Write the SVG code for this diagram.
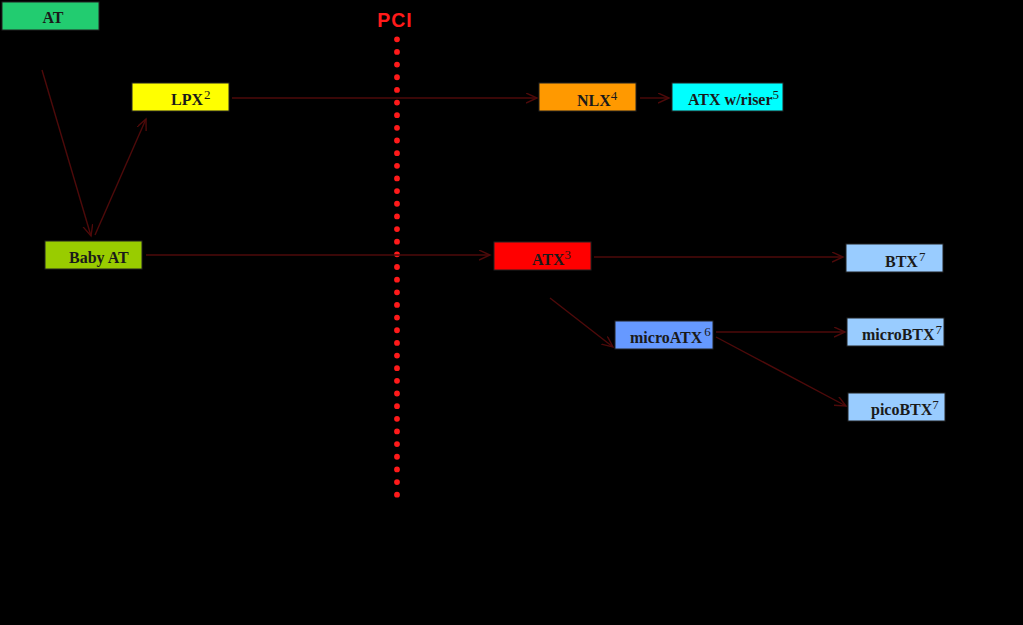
<svg xmlns="http://www.w3.org/2000/svg" width="1023" height="625" viewBox="0 0 1023 625">
<defs>
<style>
.box{stroke:#222;stroke-width:1}
.lbl{font-family:"Liberation Serif",serif;font-weight:bold;font-size:16px;fill:#1a1a1a}
.sup{font-weight:normal;font-size:13px}
.conn{stroke:#4e0a0a;stroke-width:1.4;fill:none;marker-end:url(#ah)}
</style>
<marker id="ah" markerUnits="userSpaceOnUse" markerWidth="14" markerHeight="12" refX="11" refY="5" orient="auto">
<path d="M0,0 L11,5 L0,10" fill="none" stroke="#4e0a0a" stroke-width="1.4"/>
</marker>
</defs>
<rect width="1023" height="625" fill="#000"/>
<g id="pci">
<line x1="397" y1="39.3" x2="397" y2="494.7" stroke="#ff1a1a" stroke-width="5.8" stroke-linecap="round" stroke-dasharray="0 12.65"/>
<text x="395" y="27" text-anchor="middle" font-family="Liberation Sans,Arial,sans-serif" font-weight="bold" font-size="19.5px" fill="#ff1a1a" letter-spacing="1">PCI</text>
</g>
<g id="connectors">
<line class="conn" x1="42" y1="70" x2="91" y2="236"/>
<line class="conn" x1="95" y1="235" x2="146" y2="119"/>
<line class="conn" x1="232" y1="98" x2="537" y2="98"/>
<line class="conn" x1="640" y1="98" x2="669" y2="98"/>
<line class="conn" x1="146" y1="255" x2="490" y2="255"/>
<line class="conn" x1="594" y1="257" x2="843" y2="257"/>
<line class="conn" x1="550" y1="298" x2="613" y2="347"/>
<line class="conn" x1="716" y1="332" x2="845" y2="332"/>
<line class="conn" x1="716" y1="337" x2="846" y2="406"/>
</g>
<g id="at"><rect class="box" x="2" y="2" width="97" height="28" fill="#22cc70"/><text class="lbl" x="53" y="23" text-anchor="middle">AT</text></g>
<g id="lpx"><rect class="box" x="132" y="83" width="97" height="28" fill="#ffff00"/><text class="lbl" x="171" y="105">LPX<tspan class="sup" dx="1" dy="-6">2</tspan></text></g>
<g id="nlx"><rect class="box" x="539" y="83" width="97" height="28" fill="#ff9900"/><text class="lbl" x="577" y="106">NLX<tspan class="sup" dx="0" dy="-6">4</tspan></text></g>
<g id="atxriser"><rect class="box" x="672" y="83" width="111" height="28" fill="#00ffff"/><text class="lbl" x="688" y="105">ATX w/riser<tspan class="sup" dx="0" dy="-6">5</tspan></text></g>
<g id="babyat"><rect class="box" x="45" y="241" width="97" height="28" fill="#99cc00"/><text class="lbl" x="69" y="263">Baby AT</text></g>
<g id="atx"><rect class="box" x="494" y="242" width="97" height="28" fill="#ff0000"/><text class="lbl" x="532" y="265">ATX<tspan class="sup" dx="0" dy="-6">3</tspan></text></g>
<g id="btx"><rect class="box" x="846" y="244" width="97" height="28" fill="#99ccff"/><text class="lbl" x="885" y="267">BTX<tspan class="sup" dx="1" dy="-6">7</tspan></text></g>
<g id="microatx"><rect class="box" x="615" y="321" width="98" height="28" fill="#6699ff"/><text class="lbl" x="630" y="343">microATX<tspan class="sup" dx="2" dy="-7">6</tspan></text></g>
<g id="microbtx"><rect class="box" x="847" y="318" width="97" height="28" fill="#99ccff"/><text class="lbl" x="862" y="340">microBTX<tspan class="sup" dx="1" dy="-6">7</tspan></text></g>
<g id="picobtx"><rect class="box" x="848" y="393" width="97" height="28" fill="#99ccff"/><text class="lbl" x="871" y="415">picoBTX<tspan class="sup" dx="0" dy="-6">7</tspan></text></g>
</svg>
